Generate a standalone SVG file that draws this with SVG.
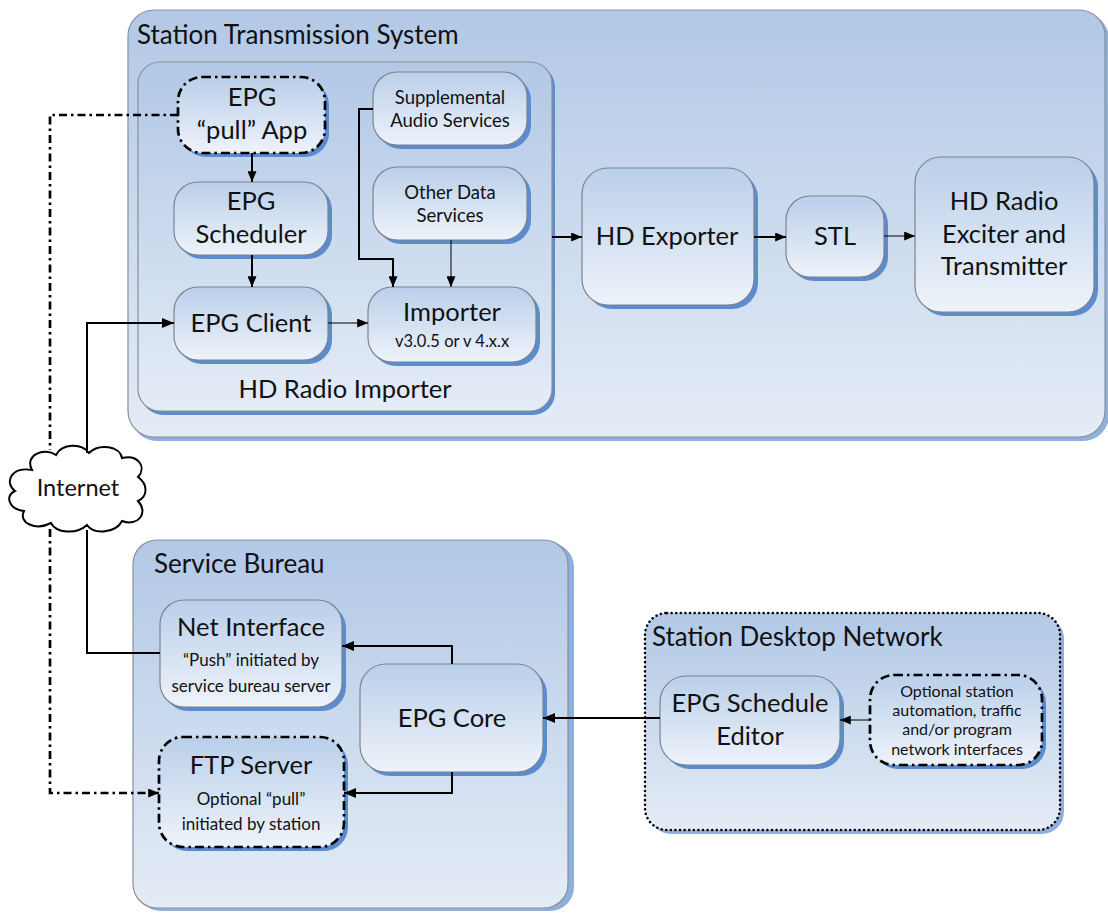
<svg xmlns="http://www.w3.org/2000/svg" width="1108" height="914" viewBox="0 0 1108 914">
<defs>
<linearGradient id="gc" x1="0" y1="0" x2="0" y2="1"><stop offset="0" stop-color="#b2c8e6"/><stop offset="1" stop-color="#e4ecf6"/></linearGradient>
<linearGradient id="gn" x1="0" y1="0" x2="0" y2="1"><stop offset="0" stop-color="#bacfea"/><stop offset="1" stop-color="#eef3fa"/></linearGradient>
<marker id="ah" viewBox="0 0 12 10" refX="12" refY="5" markerWidth="12" markerHeight="10" markerUnits="userSpaceOnUse" orient="auto"><path d="M0,0 L12,5 L0,10 z" fill="#000"/></marker>
<marker id="ahs" viewBox="0 0 12 10" refX="12" refY="5" markerWidth="11" markerHeight="9" markerUnits="userSpaceOnUse" orient="auto"><path d="M0,0 L12,5 L0,10 z" fill="#000"/></marker>
</defs>
<style>
.cont{fill:url(#gc);stroke:#8a9099;stroke-width:1.2}
.sh{fill:#5a8ccf}
.shc{fill:#8fb0dc}
.node{fill:url(#gn);stroke:#7d838c;stroke-width:1.2}
.dd{stroke:#000;stroke-width:2.7;stroke-dasharray:9,4,2.5,4}
.dot{stroke:#000;stroke-width:2.5;stroke-dasharray:0.1,4.5;stroke-linecap:round}
text{font-family:Lato,"Open Sans","Liberation Sans",sans-serif;fill:#111;text-anchor:middle}
.t{font-size:25.5px}
.ts{font-size:17px}
.tm{font-size:18.5px}
.to{font-size:16px}
.tl{text-anchor:start;font-size:26px}
.ln{fill:none;stroke:#000;stroke-width:2}
.lnt{fill:none;stroke:#000;stroke-width:1}
.ddl{fill:none;stroke:#000;stroke-width:2.7;stroke-dasharray:8,4,2.5,4}
</style>

<g id="station-transmission-system">
<rect class="shc" x="131" y="13" width="978" height="428" rx="26"/>
<rect class="cont" x="128" y="10" width="977" height="427" rx="26"/>
<text class="tl" x="137" y="44">Station Transmission System</text>
</g>

<g id="hd-radio-importer">
<rect class="sh" x="141" y="65" width="414" height="350" rx="22"/>
<rect class="cont" x="138" y="62" width="414" height="349" rx="22"/>
<text class="t" x="345" y="398">HD Radio Importer</text>
</g>

<g id="epg-pull-app">
<rect class="sh" x="182" y="81" width="147" height="76" rx="24"/>
<rect class="node dd" x="178" y="77" width="147" height="76" rx="24"/>
<text class="t" x="252" y="106">EPG</text>
<text class="t" x="252" y="139">“pull” App</text>
</g>

<g id="epg-scheduler">
<rect class="sh" x="178" y="186" width="154" height="73" rx="24"/>
<rect class="node" x="174" y="182" width="154" height="73" rx="24"/>
<text class="t" x="251" y="210">EPG</text>
<text class="t" x="251" y="243">Scheduler</text>
</g>

<g id="epg-client">
<rect class="sh" x="178" y="291" width="154" height="73" rx="24"/>
<rect class="node" x="174" y="287" width="154" height="73" rx="24"/>
<text class="t" x="251" y="332">EPG Client</text>
</g>

<g id="supplemental-audio">
<rect class="sh" x="377" y="76" width="154" height="73" rx="24"/>
<rect class="node" x="373" y="72" width="154" height="73" rx="24"/>
<text class="tm" x="450" y="104">Supplemental</text>
<text class="tm" x="450" y="127">Audio Services</text>
</g>

<g id="other-data">
<rect class="sh" x="377" y="171" width="154" height="73" rx="24"/>
<rect class="node" x="373" y="167" width="154" height="73" rx="24"/>
<text class="tm" x="450" y="199">Other Data</text>
<text class="tm" x="450" y="222">Services</text>
</g>

<g id="importer">
<rect class="sh" x="372" y="291" width="168" height="75" rx="24"/>
<rect class="node" x="368" y="287" width="168" height="75" rx="24"/>
<text class="t" x="452" y="321">Importer</text>
<text x="452" y="347" style="font-size:16.5px">v3.0.5 or v 4.x.x</text>
</g>

<g id="hd-exporter">
<rect class="sh" x="586" y="172" width="172" height="137" rx="26"/>
<rect class="node" x="582" y="168" width="172" height="137" rx="26"/>
<text class="t" x="667" y="245">HD Exporter</text>
</g>

<g id="stl">
<rect class="sh" x="790" y="200" width="98" height="81" rx="24"/>
<rect class="node" x="786" y="196" width="98" height="81" rx="24"/>
<text class="t" x="835" y="245">STL</text>
</g>

<g id="hd-radio-exciter">
<rect class="sh" x="919" y="161" width="179" height="155" rx="26"/>
<rect class="node" x="915" y="157" width="179" height="155" rx="26"/>
<text class="t" x="1004" y="210">HD Radio</text>
<text class="t" x="1004" y="243">Exciter and</text>
<text class="t" x="1004" y="275">Transmitter</text>
</g>

<g id="internet">
<path d="M32,470 C24,455 44,447 56,455 C62,443 82,443 89,453 C99,443 120,446 122,458 C138,454 147,467 138,477 C149,485 147,497 138,501 C149,513 138,527 122,521 C116,533 94,535 87,525 C76,535 56,533 51,523 C36,531 18,523 24,511 C8,509 5,495 15,491 C4,483 11,466 32,470 z" fill="#fff" stroke="#000" stroke-width="2"/>
<text x="78" y="496" style="font-size:23.5px">Internet</text>
</g>

<g id="service-bureau">
<rect class="shc" x="137" y="543" width="437" height="368" rx="24"/>
<rect class="cont" x="133" y="540" width="435" height="368" rx="24"/>
<text class="tl" x="154" y="573">Service Bureau</text>
</g>

<g id="net-interface">
<rect class="sh" x="164" y="604" width="182" height="107" rx="24"/>
<rect class="node" x="160" y="600" width="182" height="107" rx="24"/>
<text class="t" x="251" y="636">Net Interface</text>
<text class="ts" x="251" y="666">“Push” initiated by</text>
<text class="ts" x="251" y="692">service bureau server</text>
</g>

<g id="ftp-server">
<rect class="sh" x="163" y="741" width="185" height="110" rx="24"/>
<rect class="node dd" x="159" y="737" width="185" height="110" rx="24"/>
<text class="t" x="251" y="774">FTP Server</text>
<text class="ts" x="251" y="805">Optional “pull”</text>
<text class="ts" x="251" y="830">initiated by station</text>
</g>

<g id="epg-core">
<rect class="sh" x="364" y="668" width="183" height="108" rx="26"/>
<rect class="node" x="360" y="664" width="183" height="108" rx="26"/>
<text class="t" x="452" y="727">EPG Core</text>
</g>

<g id="station-desktop-network">
<rect class="shc" x="649" y="617" width="415" height="217" rx="22"/>
<rect class="cont dot" x="645" y="613" width="415" height="217" rx="22"/>
<text class="tl" x="652" y="646">Station Desktop Network</text>
</g>

<g id="epg-schedule-editor">
<rect class="sh" x="664" y="680" width="180" height="89" rx="26"/>
<rect class="node" x="660" y="676" width="180" height="89" rx="26"/>
<text class="t" x="750" y="712">EPG Schedule</text>
<text class="t" x="750" y="745">Editor</text>
</g>

<g id="optional-station">
<rect class="sh" x="874" y="679" width="172" height="90" rx="24"/>
<rect class="node dd" x="870" y="675" width="172" height="90" rx="24"/>
<text class="to" x="957" y="697">Optional station</text>
<text class="to" x="957" y="716">automation, traffic</text>
<text class="to" x="957" y="735">and/or program</text>
<text class="to" x="957" y="755">network interfaces</text>
</g>

<g id="connectors">
<path class="ln" d="M252,153 V182" marker-end="url(#ahs)"/>
<path class="ln" d="M252,255 V287" marker-end="url(#ahs)"/>
<path class="lnt" d="M328,323 H368" marker-end="url(#ahs)"/>
<path class="lnt" d="M451,240 V287" marker-end="url(#ahs)"/>
<path class="ln" d="M373,109 H359 V259 H393 V287" marker-end="url(#ahs)"/>
<path class="ln" d="M552,237 H582" marker-end="url(#ahs)"/>
<path class="ln" d="M754,237 H786" marker-end="url(#ahs)"/>
<path class="lnt" d="M884,236 H915" marker-end="url(#ahs)"/>
<path class="ddl" d="M178,115 H50 V450"/>
<path class="ddl" d="M50,529 V793 H159" marker-end="url(#ahs)"/>
<path class="ln" d="M87,453 V323 H174" marker-end="url(#ah)"/>
<path class="ln" d="M160,653 H87 V530"/>
<path class="ln" d="M452,664 V646 H342" marker-end="url(#ah)"/>
<path class="ln" d="M452,772 V793 H344" marker-end="url(#ah)"/>
<path class="ln" d="M660,718 H543" marker-end="url(#ah)"/>
<path class="lnt" d="M870,720 H840" marker-end="url(#ahs)"/>
</g>
</svg>
